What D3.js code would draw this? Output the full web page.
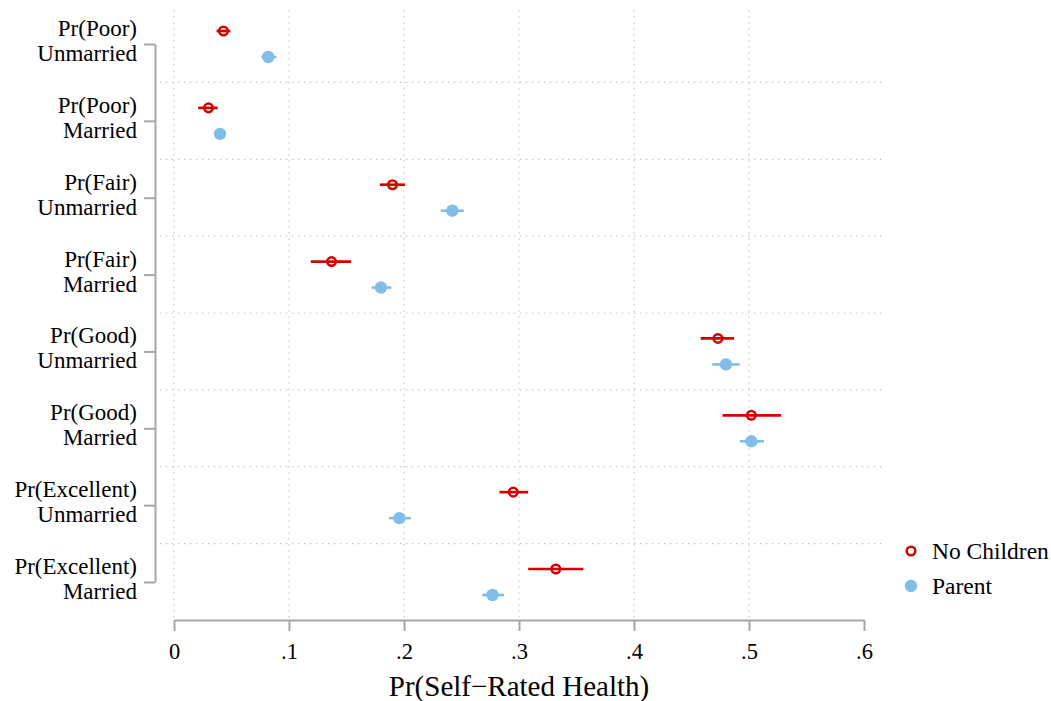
<!DOCTYPE html>
<html>
<head>
<meta charset="utf-8">
<script src="https://cdn.jsdelivr.net/npm/d3@7"></script>
<style>
  html, body { margin: 0; padding: 0; background: #fff; }
  svg { display: block; font-family: "Liberation Serif", "Times New Roman", serif; }
</style>
</head>
<body>
<svg id="chart" width="1051" height="701"></svg>
<script>
// Outcome / marital-status rows, top to bottom
const outcomes = ["Pr(Poor)", "Pr(Poor)", "Pr(Fair)", "Pr(Fair)", "Pr(Good)", "Pr(Good)", "Pr(Excellent)", "Pr(Excellent)"];
const marital  = ["Unmarried", "Married", "Unmarried", "Married", "Unmarried", "Married", "Unmarried", "Married"];

// Predicted probabilities with 95% confidence bounds
const noChildren   = [0.043, 0.030, 0.190, 0.137, 0.473, 0.502, 0.295, 0.332];
const noChildrenLo = [0.037, 0.021, 0.179, 0.119, 0.458, 0.477, 0.283, 0.308];
const noChildrenHi = [0.049, 0.038, 0.201, 0.154, 0.487, 0.528, 0.308, 0.356];

const parent   = [0.082, 0.040, 0.242, 0.180, 0.480, 0.502, 0.196, 0.277];
const parentLo = [0.076, 0.036, 0.232, 0.172, 0.468, 0.492, 0.187, 0.268];
const parentHi = [0.089, 0.043, 0.252, 0.189, 0.492, 0.513, 0.206, 0.287];

const xTicks = [0, 0.1, 0.2, 0.3, 0.4, 0.5, 0.6];
const xTickLabels = ["0", ".1", ".2", ".3", ".4", ".5", ".6"];
const seriesNames = ["No Children", "Parent"];

const FONT = '"Liberation Serif", "Times New Roman", serif';
const RED = "#d40000";
const BLUE = "#80bee9";
const AXIS = "#a6a6a6";
const GRID = "#bdbdbd";

const svg = d3.select("#chart");

const x = d3.scaleLinear().domain([0, 0.6]).range([174, 864]);
const y = d3.scaleLinear().domain([0, outcomes.length - 1]).range([44, 582]);
const off = 13;               // vertical offset of each series within a row
const plotTop = y(-0.44), plotBottom = y(7.5);
const gridLeft = 160, gridRight = 883;

// vertical dotted gridlines (all ticks but the last)
svg.append("g").selectAll("line")
  .data(xTicks.slice(0, -1))
  .join("line")
  .attr("x1", d => x(d)).attr("x2", d => x(d))
  .attr("y1", plotTop).attr("y2", plotBottom)
  .attr("stroke", GRID).attr("stroke-width", 1.2)
  .attr("stroke-dasharray", "1.2,4.8");

// horizontal dotted separators between rows
svg.append("g").selectAll("line")
  .data(d3.range(outcomes.length - 1))
  .join("line")
  .attr("x1", gridLeft).attr("x2", gridRight)
  .attr("y1", d => y(d + 0.5)).attr("y2", d => y(d + 0.5))
  .attr("stroke", GRID).attr("stroke-width", 1.2)
  .attr("stroke-dasharray", "1.2,4.8");

// x axis
const xAxis = svg.append("g")
  .attr("transform", `translate(0,${Math.round(plotBottom)})`)
  .call(d3.axisBottom(x).tickValues(xTicks)
    .tickFormat((d, i) => xTickLabels[i])
    .tickSize(11).tickSizeOuter(0).tickPadding(12));
xAxis.attr("font-family", FONT);
xAxis.select(".domain").attr("stroke", AXIS).attr("stroke-width", 2);
xAxis.selectAll(".tick line").attr("stroke", AXIS).attr("stroke-width", 2);
xAxis.selectAll(".tick text")
  .attr("fill", "#000")
  .style("font-family", FONT)
  .style("font-size", "22.5px");

// y axis with two-line row labels
const yAxis = svg.append("g")
  .attr("transform", "translate(155,0)")
  .call(d3.axisLeft(y).tickValues(d3.range(outcomes.length))
    .tickFormat("").tickSize(11).tickSizeOuter(0));
yAxis.select(".domain").attr("stroke", AXIS).attr("stroke-width", 2);
yAxis.selectAll(".tick line").attr("stroke", AXIS).attr("stroke-width", 2);

const labels = svg.append("g")
  .attr("text-anchor", "end")
  .style("font-family", FONT)
  .style("font-size", "23px")
  .attr("fill", "#000");
outcomes.forEach((o, i) => {
  const t = labels.append("text").attr("x", 137);
  t.append("tspan").attr("x", 137).attr("y", y(i) - 8).text(o);
  t.append("tspan").attr("x", 137).attr("y", y(i) + 17).text(marital[i]);
});

// axis title
svg.append("text")
  .attr("x", (x(0) + x(0.6)) / 2)
  .attr("y", 696)
  .attr("text-anchor", "middle")
  .style("font-family", FONT)
  .style("font-size", "29px")
  .text("Pr(Self\u2212Rated Health)");

// Parent: light blue CI bars and filled dots
const gP = svg.append("g");
gP.selectAll("line")
  .data(parent.map((v, i) => i))
  .join("line")
  .attr("x1", i => x(parentLo[i])).attr("x2", i => x(parentHi[i]))
  .attr("y1", i => y(i) + off).attr("y2", i => y(i) + off)
  .attr("stroke", BLUE).attr("stroke-width", 2.6);
gP.selectAll("circle")
  .data(parent)
  .join("circle")
  .attr("cx", d => x(d)).attr("cy", (d, i) => y(i) + off)
  .attr("r", 6.2).attr("fill", BLUE);

// No Children: red CI bars and hollow circles
const gN = svg.append("g");
gN.selectAll("line")
  .data(noChildren.map((v, i) => i))
  .join("line")
  .attr("x1", i => x(noChildrenLo[i])).attr("x2", i => x(noChildrenHi[i]))
  .attr("y1", i => y(i) - off).attr("y2", i => y(i) - off)
  .attr("stroke", RED).attr("stroke-width", 2.7);
gN.selectAll("circle")
  .data(noChildren)
  .join("circle")
  .attr("cx", d => x(d)).attr("cy", (d, i) => y(i) - off)
  .attr("r", 4.3).attr("fill", "none")
  .attr("stroke", RED).attr("stroke-width", 2.5);

// legend
const legend = svg.append("g")
  .style("font-family", FONT)
  .style("font-size", "23.5px");
const legY = [551, 586];
legend.append("circle").attr("cx", 911).attr("cy", legY[0]).attr("r", 4.3)
  .attr("fill", "none").attr("stroke", RED).attr("stroke-width", 2.5);
legend.append("circle").attr("cx", 911).attr("cy", legY[1]).attr("r", 6.2)
  .attr("fill", BLUE);
seriesNames.forEach((s, i) => {
  legend.append("text").attr("x", 932).attr("y", legY[i] + 8).text(s);
});
</script>
</body>
</html>
